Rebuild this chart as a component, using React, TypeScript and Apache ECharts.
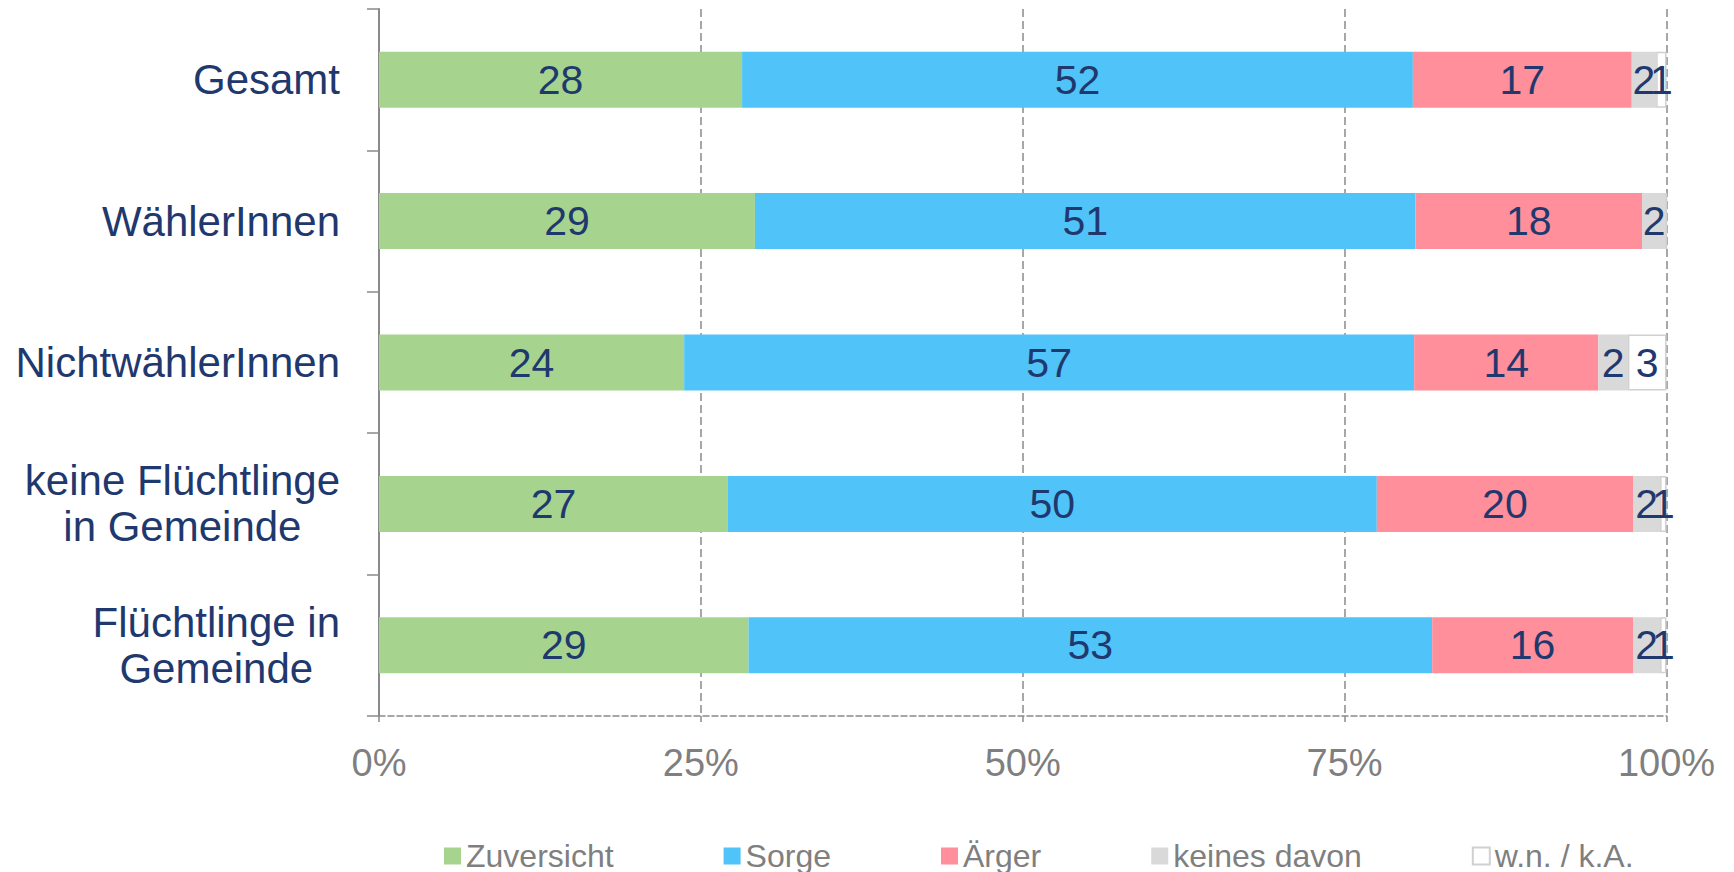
import React, { useEffect, useRef } from "react";
import * as echarts from "echarts";

const categories = [
  "Gesamt",
  "WählerInnen",
  "NichtwählerInnen",
  "keine Flüchtlinge\nin Gemeinde",
  "Flüchtlinge in\nGemeinde",
];
const seriesNames = ["Zuversicht", "Sorge", "Ärger", "keines davon", "w.n. / k.A."];
const zuversicht = [28.2, 29.2, 23.7, 27.1, 28.7];
const sorge = [52.1, 51.3, 56.7, 50.4, 53.1];
const aerger = [17.0, 17.6, 14.3, 19.9, 15.6];
const keinesDavon = [1.9, 1.9, 2.3, 2.1, 2.1];
const wnka = [0.8, 0, 3.0, 0.5, 0.5];
const xTicks = [0, 25, 50, 75, 100];

const seriesData = [zuversicht, sorge, aerger, keinesDavon, wnka];
const colors = ["#A6D48F", "#50C3F8", "#FF8F9A", "#D9D9D9", "#FFFFFF"];

const FONT = '"Liberation Sans", Arial, sans-serif';
const NAVY = "#1F386E";
const GREY_TEXT = "#7F7F7F";
const LINE = "#8A8A8A";

function measure(text: string, size: number): number {
  const c = document.createElement("canvas").getContext("2d");
  if (!c) return text.length * size * 0.55;
  c.font = `${size}px ${FONT}`;
  return c.measureText(text).width;
}

export default function App() {
  const ref = useRef<HTMLDivElement>(null);
  useEffect(() => {
    if (!ref.current) return;
    const chart = echarts.init(ref.current, undefined, { renderer: "svg" });
    const catSize = 42;
    const rich: Record<string, any> = {};
    categories.forEach((c, i) => {
      const w = Math.max(...c.split("\n").map((l) => measure(l, catSize))) + 2;
      rich["r" + i] = {
        width: w,
        align: "center",
        fontSize: catSize,
        fontFamily: FONT,
        color: NAVY,
        lineHeight: 46,
      };
    });

    const option: any = {
      animation: false,
      textStyle: { fontFamily: FONT },
      grid: { left: 379, right: 67.5, top: 9, bottom: 156, containLabel: false },
      xAxis: {
        type: "value",
        min: xTicks[0],
        max: xTicks[xTicks.length - 1],
        interval: 25,
        axisLine: { show: true, lineStyle: { color: LINE, width: 1.5, type: [6, 3] } },
        axisTick: { show: true, length: 9, lineStyle: { color: LINE, width: 1.5, type: [6, 3] } },
        splitLine: { show: true, lineStyle: { color: LINE, width: 1.5, type: [8, 4] } },
        axisLabel: {
          formatter: "{value}%",
          color: GREY_TEXT,
          fontSize: 38,
          fontFamily: FONT,
          margin: 28,
        },
      },
      yAxis: {
        type: "category",
        data: categories,
        inverse: true,
        axisLine: { show: true, lineStyle: { color: LINE, width: 2 } },
        axisTick: { show: true, length: 12, lineStyle: { color: LINE, width: 1.5 } },
        axisLabel: {
          margin: 38,
          formatter: (v: string, i: number) =>
            v.split("\n").map((l) => `{r${i}|${l}}`).join("\n"),
          rich,
        },
      },
      legend: {
        left: 439,
        top: 835,
        icon: "rect",
        itemWidth: 17,
        itemHeight: 17,
        itemGap: 110,
        textStyle: { color: GREY_TEXT, fontSize: 32, fontFamily: FONT, lineHeight: 32 },
        data: seriesNames,
      },
      series: seriesNames.map((name, si) => ({
        name,
        type: "bar",
        stack: "total",
        barWidth: 56,
        data: seriesData[si],
        itemStyle:
          si === 4
            ? { color: colors[si], borderColor: "#D0D0D0", borderWidth: 1.5 }
            : { color: colors[si] },
        label: {
          show: true,
          position: "inside",
          color: NAVY,
          fontSize: 41,
          fontFamily: FONT,
          formatter: (p: any) => (p.value > 0 ? String(Math.round(p.value)) : ""),
        },
        emphasis: { disabled: true },
      })),
    };
    chart.setOption(option);
    return () => chart.dispose();
  }, []);
  return (
    <div
      ref={ref}
      style={{ position: "absolute", left: 0, top: 0, width: 1734, height: 872 }}
    />
  );
}
